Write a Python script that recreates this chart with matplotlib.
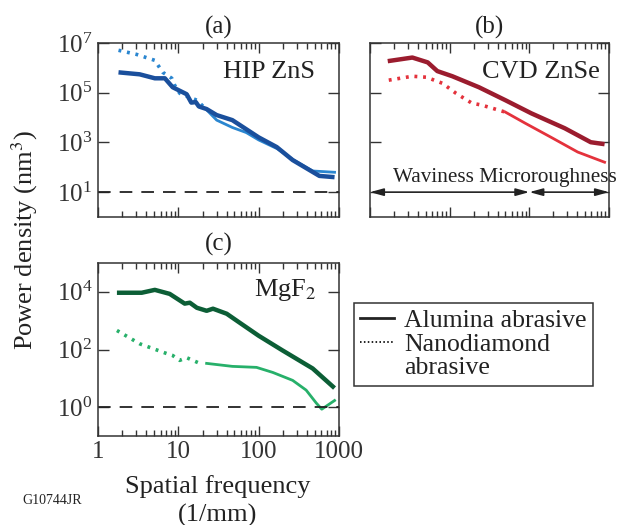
import numpy as np
import matplotlib
matplotlib.use('Agg')
import matplotlib.pyplot as plt
from matplotlib.lines import Line2D
from matplotlib.ticker import LogLocator, LogFormatterMathtext, NullFormatter

plt.rcParams['font.family'] = ['Liberation Serif', 'DejaVu Serif']
plt.rcParams['mathtext.fontset'] = 'stix'

# (a) HIP ZnS
a_sol_f = [1.8, 3.3, 5.1, 6.8, 8.5, 12.7, 14.5, 16.5, 18, 22.5, 30, 47, 100, 168, 265, 470, 570, 880]
a_sol_p = [6.6e5, 5.5e5, 3.8e5, 3.8e5, 1.66e5, 8.7e4, 4.0e4, 4.2e4, 2.8e4, 2.2e4, 1.26e4, 7.9e3,
           1.6e3, 650, 195, 65, 45, 40]
a_dot_f = [1.8, 3.0, 5.1, 5.6, 6.4, 8.3, 9.0, 10.4, 13, 17, 22, 30, 47, 70, 100, 170, 270, 470, 880]
a_dot_p = [5.1e6, 3.5e6, 2.0e6, 1.26e6, 6.6e5, 3.8e5, 2.0e5, 9.5e4, 7.1e4, 5.0e4, 2.2e4, 7.9e3,
           4.0e3, 2.5e3, 1.26e3, 560, 200, 71, 63]

# (b) CVD ZnSe
b_sol_f = [1.67, 3.4, 5.3, 7.0, 10.8, 23.3, 50, 106, 279, 590, 880]
b_sol_p = [1.86e6, 2.6e6, 1.66e6, 7.4e5, 4.6e5, 1.66e5, 5.0e4, 1.48e4, 3.7e3, 1.02e3, 850]
b_dot_f = [1.72, 3.4, 5.1, 8.1, 12, 19, 25, 50, 89, 188, 405, 880]
b_dot_p = [3.2e5, 4.6e5, 4.2e5, 2.4e5, 9.5e4, 3.8e4, 3.2e4, 1.66e4, 5.9e3, 1.6e3, 410, 160]

# (c) MgF2
c_sol_f = [1.72, 3.5, 5.1, 7.8, 12, 13.9, 17, 22.5, 27, 40, 58, 100, 198, 470, 880]
c_sol_p = [9300, 9300, 1.17e4, 8500, 3900, 4200, 2800, 2200, 2600, 1740, 850, 300, 93, 22, 4.6]
c_dot_f = [1.72, 3.3, 7.2, 8.5, 10.4, 12.7, 18.5, 22.5, 47, 94, 150, 265, 390, 520, 610, 700, 880]
c_dot_p = [457, 158, 72, 62, 42, 52, 33, 33, 26, 24, 16, 8.5, 3.9, 1.4, 0.85, 1.1, 1.7]

legend_labels = ['Alumina abrasive', 'Nanodiamond', 'abrasive']

W, H = 620, 525
fig = plt.figure(figsize=(6.2, 5.25), dpi=100)
TXT = '#222222'


def make_ax(x0, x1, y0, y1):
    return fig.add_axes([x0 / W, 1 - y1 / H, (x1 - x0) / W, (y1 - y0) / H])


def style(ax, ylim, yticks, show_y, show_x):
    ax.set_xscale('log')
    ax.set_yscale('log')
    ax.set_xlim(1, 1000)
    ax.set_ylim(*ylim)
    ax.xaxis.set_major_locator(LogLocator(base=10, numticks=10))
    ax.xaxis.set_minor_locator(LogLocator(base=10, subs=np.arange(2, 10), numticks=10))
    ax.set_yticks(yticks)
    ax.yaxis.set_minor_locator(plt.NullLocator())
    ax.yaxis.set_major_formatter(LogFormatterMathtext())
    ax.tick_params(which='both', direction='in', top=True, right=True, labelsize=18, colors='#333333')
    ax.tick_params(which='major', axis='x', length=7, width=1)
    ax.tick_params(which='minor', axis='x', length=4, width=1)
    ax.tick_params(axis='y', length=8, width=1, pad=4)
    if not show_y:
        ax.yaxis.set_major_formatter(NullFormatter())
    if show_x:
        ax.set_xticks([1, 10, 100, 1000])
        ax.set_xticklabels(['1', '10', '100', '1000'])
    else:
        ax.xaxis.set_major_formatter(NullFormatter())
    ax.xaxis.set_minor_formatter(NullFormatter())
    for sp in ax.spines.values():
        sp.set_color('#333333')
        sp.set_linewidth(1.1)


def draw(ax, sf, sp, df, dp, c1, c2, split):
    # nanodiamond: dotted where points are sparse, dense (solid-looking) after split
    df = np.array(df)
    dp = np.array(dp)
    lo = df <= split
    hi = df >= split
    ax.plot(df[lo], dp[lo], color=c2, lw=2.6, linestyle=(0, (0.8, 1.6)))
    ax.plot(df[hi], dp[hi], color=c2, lw=2.0)
    ax.plot(sf, sp, color=c1, lw=3.2, solid_capstyle='butt')


ax_a = make_ax(98, 339, 43, 217)
style(ax_a, (1, 1e7), [1e1, 1e3, 1e5, 1e7], True, False)
draw(ax_a, a_sol_f, a_sol_p, a_dot_f, a_dot_p, '#1a4f9c', '#2a86d0', 22)
ax_a.axhline(10, color=TXT, lw=1.3, dashes=(7, 5))
ax_a.text(0.9, 0.833, 'HIP ZnS', transform=ax_a.transAxes, ha='right', va='center', fontsize=19, color=TXT)
ax_a.text(0.5, 1.092, '(a)', transform=ax_a.transAxes, ha='center', va='center', fontsize=18, color=TXT)

ax_b = make_ax(370, 609, 43, 217)
style(ax_b, (1, 1e7), [1e1, 1e3, 1e5, 1e7], False, False)
draw(ax_b, b_sol_f, b_sol_p, b_dot_f, b_dot_p, '#9b1c2e', '#e4323c', 50)
ax_b.text(0.962, 0.833, 'CVD ZnSe', transform=ax_b.transAxes, ha='right', va='center', fontsize=19, color=TXT)
ax_b.text(0.5, 1.092, '(b)', transform=ax_b.transAxes, ha='center', va='center', fontsize=18, color=TXT)
arrow = dict(arrowstyle='<|-|>,head_length=0.8,head_width=0.22', color=TXT, lw=1.2, shrinkA=0, shrinkB=0)
ax_b.annotate('', xy=(1, 10), xytext=(100, 10), xycoords='data', arrowprops=arrow)
ax_b.annotate('', xy=(100, 10), xytext=(1000, 10), xycoords='data', arrowprops=arrow)
ax_b.text(1.93, 10 ** 1.57, 'Waviness Microroughness', ha='left', va='center', fontsize=15.3,
          color=TXT, clip_on=False)

ax_c = make_ax(98, 339, 263, 436)
style(ax_c, (0.1, 1e5), [1e0, 1e2, 1e4], True, True)
draw(ax_c, c_sol_f, c_sol_p, c_dot_f, c_dot_p, '#0c5e36', '#27b06a', 22)
ax_c.axhline(1, color=TXT, lw=1.3, dashes=(7, 5))
ax_c.text(0.909, 0.844, 'MgF$_2$', transform=ax_c.transAxes, ha='right', va='center', fontsize=19, color=TXT)
ax_c.text(0.5, 1.11, '(c)', transform=ax_c.transAxes, ha='center', va='center', fontsize=18, color=TXT)

fig.text(25 / W, 1 - 240 / H, 'Power density (nm$^3$)', rotation=90, ha='center', va='center',
         fontsize=19, color=TXT)
fig.text(218 / W, 1 - 487 / H, 'Spatial frequency', ha='center', va='center', fontsize=19, color=TXT)
fig.text(218 / W, 1 - 515 / H, '(1/mm)', ha='center', va='center', fontsize=19, color=TXT)
fig.text(22 / W, 1 - 500 / H, 'G10744JR', ha='left', va='center', fontsize=10, color=TXT)

handles = [Line2D([], [], color=TXT, lw=2),
           Line2D([], [], color=TXT, lw=1.4, linestyle=(0, (0.8, 1.2))),
           Line2D([], [], color='none', lw=0)]
leg = fig.legend(handles, legend_labels, loc='upper left',
                 bbox_to_anchor=(354 / W, 1 - 303 / H), borderaxespad=0, fancybox=False,
                 edgecolor='#333333', fontsize=18.5, handlelength=1.3, handletextpad=0.4,
                 labelspacing=0.02, borderpad=0.25, framealpha=1)
leg.get_frame().set_linewidth(1.1)
for t in leg.get_texts():
    t.set_color(TXT)

fig.savefig('out.png', dpi=100)
